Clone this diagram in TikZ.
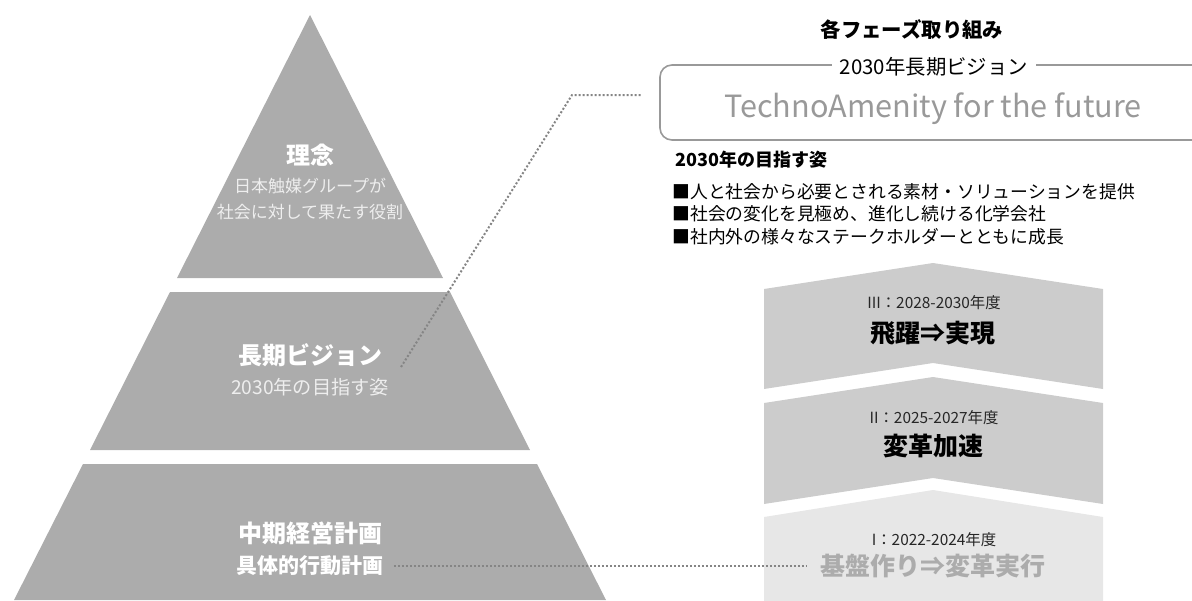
\documentclass[tikz,border=0pt]{standalone}
\usepackage{fontspec}
\setmainfont{Noto Sans CJK JP}
\definecolor{pyr}{HTML}{ACACAC}
\definecolor{chev}{HTML}{CCCCCC}
\definecolor{chevlight}{HTML}{E7E7E7}
\definecolor{boxline}{HTML}{999999}
\definecolor{dotc}{HTML}{858585}
\definecolor{subw}{HTML}{EEEEEE}
\newcommand{\fs}[1]{\fontsize{#1pt}{#1pt}\selectfont}
\tikzset{
  txt/.style={inner sep=0pt, anchor=center},
  pyrtitle/.style={txt, text=white, font=\fs{12}\bfseries},
  pyrsub/.style={txt, text=subw, font=\fs{8.5}},
  dotline/.style={draw=dotc, line width=1pt, dash pattern=on 1pt off 1pt},
  bullet/.style={inner sep=0pt, anchor=west, font=\fs{8.9}, text=black},
  yearlbl/.style={txt, font=\fs{7.7}, text=black!85},
  phase/.style={txt, font=\fs{12.5}\bfseries, text=black},
}
\begin{document}
\begin{tikzpicture}[x=0.5pt, y=-0.5pt]
\useasboundingbox (0,0) rectangle (1192,600);
\begin{scope}
\clip (0,0) rectangle (1192,600);
% pyramid
\fill[pyr] (310,15) -- (443,278) -- (177,278) -- cycle;
\fill[pyr] (170,292) -- (450,292) -- (530,450) -- (90,450) -- cycle;
\fill[pyr] (83,464) -- (537,464) -- (606,600) -- (14,600) -- cycle;
% chevrons
\fill[chev] (764,289) -- (933,263) -- (1103,289) -- (1103,389) -- (933,363) -- (764,389) -- cycle;
\fill[chev] (764,403) -- (933,377) -- (1103,403) -- (1103,504) -- (933,478) -- (764,504) -- cycle;
\fill[chevlight] (764,517) -- (933,490) -- (1103,517) -- (1103,610) -- (764,610) -- cycle;
% vision box
\draw[boxline, line width=0.8pt, rounded corners=6pt] (660,65) rectangle (1240,140);
\end{scope}

% pyramid texts
\node[pyrtitle] (rinen) at (310,155) {理念};
\node[pyrsub] (rinen1) at (310,186) {日本触媒グループが};
\node[pyrsub] (rinen2) at (310,212) {社会に対して果たす役割};
\node[pyrtitle] (vision) at (310,355) {長期ビジョン};
\node[txt, text=subw, font=\fs{9.6}] (vision2) at (310,387) {2030年の目指す姿};
\node[pyrtitle] (mid) at (310,533) {中期経営計画};
\node[txt, text=white, font=\fs{10.5}\bfseries] (mid2) at (310,566) {具体的行動計画};

% right side
\node[txt, font=\fs{10.2}\bfseries] (title) at (912,30) {各フェーズ取り組み};
\node[txt, fill=white, inner xsep=4pt, inner ysep=1pt, font=\fs{10.2}] (vlabel) at (934,67) {2030年長期ビジョン};
\node[txt, text=boxline, font=\fs{15.3}] (techno) at (933,109) {TechnoAmenity for the future};
\node[inner sep=0pt, anchor=west, font=\fs{9}\bfseries] (aim) at (675,160) {2030年の目指す姿};
\node[bullet] (b1) at (672,192) {■人と社会から必要とされる素材・ソリューションを提供};
\node[bullet] (b2) at (672,214) {■社会の変化を見極め、進化し続ける化学会社};
\node[bullet] (b3) at (672,237) {■社内外の様々なステークホルダーとともに成長};

\node[yearlbl] (y3) at (934,303) {III：2028-2030年度};
\node[phase] (p3) at (933,333) {飛躍⇒実現};
\node[yearlbl] (y2) at (934,418) {II：2025-2027年度};
\node[phase] (p2) at (933,446) {変革加速};
\node[yearlbl] (y1) at (934,540) {I：2022-2024年度};
\node[phase, text=pyr] (p1) at (933,566) {基盤作り⇒変革実行};

% connectors
\coordinate (d0) at (401,367);
\coordinate (d1) at (572,95);
\coordinate (d2) at (642,95);
\draw[dotline] (d0) -- (d1) -- (d2);
\draw[dotline] ([xshift=5pt]mid2.east) -- ([xshift=-7pt]p1.west);
\end{tikzpicture}
\end{document}
